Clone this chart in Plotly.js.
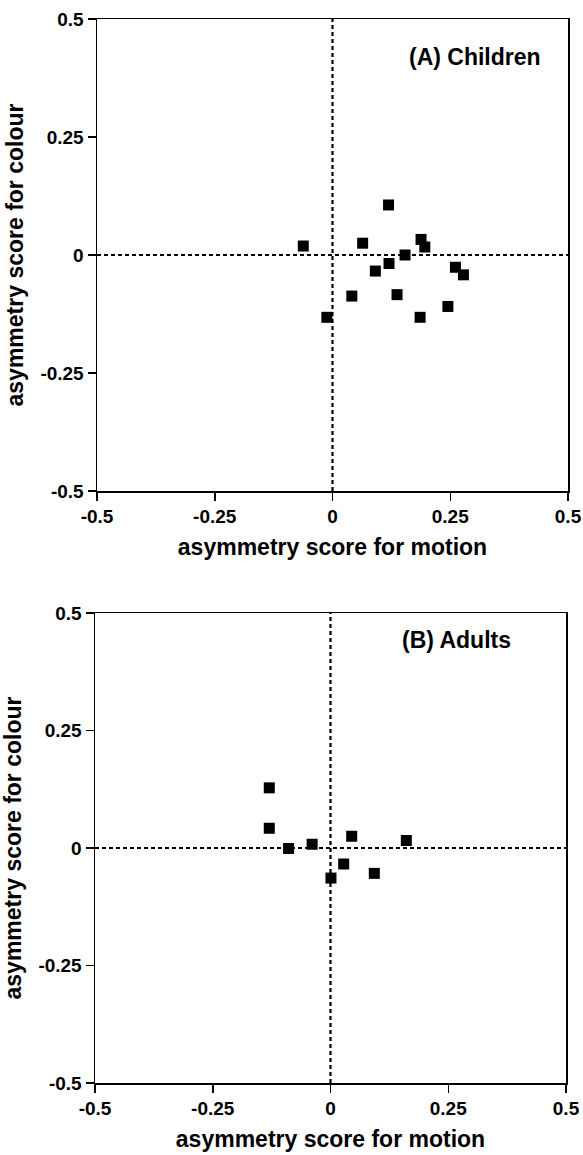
<!DOCTYPE html>
<html>
<head>
<meta charset="utf-8">
<script src="https://cdn.plot.ly/plotly-3.0.1.min.js"></script>
<style>html,body{margin:0;padding:0;background:#fff;}#plot{width:583px;height:1155px;}</style>
</head>
<body>
<div id="plot"></div>
<script>
// Children (panel A)
const childMotion = [-0.062, 0.064, 0.119, 0.188, 0.196, 0.154, 0.120, 0.091, 0.261, 0.278, 0.041, 0.137, 0.245, -0.012, 0.186];
const childColour = [0.019, 0.025, 0.106, 0.033, 0.017, 0.000, -0.018, -0.034, -0.026, -0.042, -0.087, -0.084, -0.109, -0.132, -0.132];
// Adults (panel B)
const adultMotion = [-0.130, -0.130, -0.089, -0.039, 0.045, 0.161, 0.028, 0.093, 0.001];
const adultColour = [0.128, 0.042, -0.001, 0.008, 0.025, 0.016, -0.034, -0.054, -0.064];
// Ticks
const tickVals = [-0.5, -0.25, 0, 0.25, 0.5];
const tickText = ["-0.5", "-0.25", "0", "0.25", "0.5"];
const panelLabels = ["(A) Children", "(B) Adults"];
const xTitle = "asymmetry score for motion";
const yTitle = "asymmetry score for colour";

const FONT = "Liberation Sans, Arial, Helvetica, sans-serif";
const H = 1155, W = 583;
const boldTicks = tickText.map(t => "<b>" + t + "</b>");

const marker = {symbol: "square", size: 11, color: "#000"};
const traces = [
  {x: childMotion, y: childColour, type: "scatter", mode: "markers", marker: marker, xaxis: "x", yaxis: "y", hoverinfo: "x+y"},
  {x: adultMotion, y: adultColour, type: "scatter", mode: "markers", marker: marker, xaxis: "x2", yaxis: "y2", hoverinfo: "x+y"}
];

function xax(domain, anchor) {
  return {
    domain: domain, anchor: anchor, range: [-0.5, 0.5],
    tickvals: tickVals, ticktext: boldTicks, ticks: "outside", ticklen: 8, tickwidth: 1.5, tickcolor: "#000",
    showline: true, linecolor: "#000", linewidth: 1.5, mirror: true,
    showgrid: false, zeroline: false,
    tickfont: {family: FONT, size: 19, color: "#000"},
    title: {text: "<b>" + xTitle + "</b>", font: {family: FONT, size: 23, color: "#000"}, standoff: 12},
    fixedrange: true
  };
}
function yax(domain, anchor) {
  return {
    domain: domain, anchor: anchor, range: [-0.5, 0.5],
    tickvals: tickVals, ticktext: boldTicks, ticks: "outside", ticklen: 8, tickwidth: 1.5, tickcolor: "#000",
    showline: true, linecolor: "#000", linewidth: 1.5, mirror: true,
    showgrid: false, zeroline: false,
    tickfont: {family: FONT, size: 19, color: "#000"},
    title: {text: "<b>" + yTitle + "</b>", font: {family: FONT, size: 23, color: "#000"}, standoff: 10},
    fixedrange: true
  };
}

const xd1 = [97 / W, 568 / W];
const xd2 = [95 / W, 566 / W];
const yd1 = [1 - 491 / H, 1 - 19 / H];
const yd2 = [1 - 1083 / H, 1 - 613 / H];

const dash = {color: "#000", width: 2.2, dash: "4px,3px"};
const shapes = [
  {type: "line", xref: "x", yref: "y", x0: 0, x1: 0, y0: -0.5, y1: 0.5, line: dash},
  {type: "line", xref: "x", yref: "y", x0: -0.5, x1: 0.5, y0: 0, y1: 0, line: dash},
  {type: "line", xref: "x2", yref: "y2", x0: 0, x1: 0, y0: -0.5, y1: 0.5, line: dash},
  {type: "line", xref: "x2", yref: "y2", x0: -0.5, x1: 0.5, y0: 0, y1: 0, line: dash}
];

const annotations = [
  {xref: "x domain", yref: "y domain", x: 0.947, y: 0.92, xanchor: "right", yanchor: "middle", showarrow: false,
   text: "<b>" + panelLabels[0] + "</b>", font: {family: FONT, size: 23, color: "#000"}},
  {xref: "x2 domain", yref: "y2 domain", x: 0.887, y: 0.943, xanchor: "right", yanchor: "middle", showarrow: false,
   text: "<b>" + panelLabels[1] + "</b>", font: {family: FONT, size: 23, color: "#000"}}
];

const layout = {
  width: W, height: H,
  margin: {l: 0, r: 0, t: 0, b: 0},
  paper_bgcolor: "#fff", plot_bgcolor: "#fff",
  showlegend: false,
  xaxis: xax(xd1, "y"), yaxis: yax(yd1, "x"),
  xaxis2: xax(xd2, "y2"), yaxis2: yax(yd2, "x2"),
  shapes: shapes, annotations: annotations,
  font: {family: FONT, color: "#000"}
};

Plotly.newPlot("plot", traces, layout, {displayModeBar: false, staticPlot: true});
</script>
</body>
</html>
